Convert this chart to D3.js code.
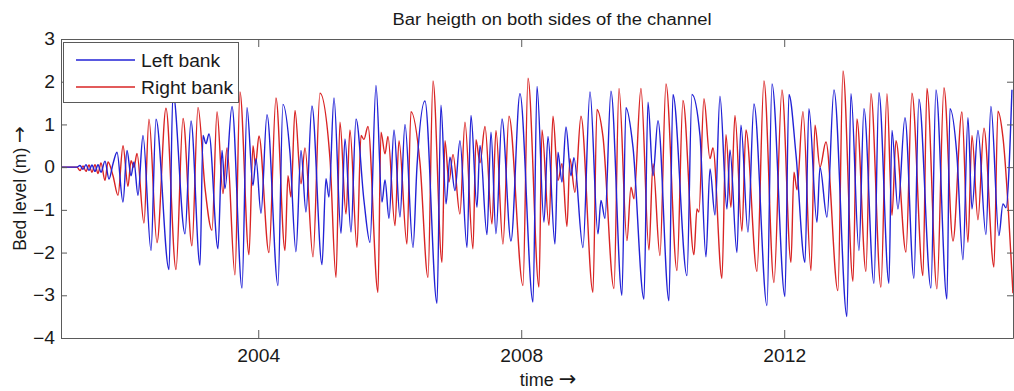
<!DOCTYPE html>
<html><head><meta charset="utf-8">
<script src="https://cdn.jsdelivr.net/npm/d3@7"></script>
<style>body{margin:0;background:#fff}svg{display:block}text{font-family:"Liberation Sans",Arial,sans-serif;fill:#1a1a1a}</style>
</head><body><svg id="c" width="1014" height="391"></svg>
<script>
const title = "Bar heigth on both sides of the channel";
const xLabel = "time";
const yLabel = "Bed level (m)";
const arrow = "\u2192";
const seriesNames = ["Left bank", "Right bank"];
const xTicks = [2004, 2008, 2012];
const yTicks = [-4, -3, -2, -1, 0, 1, 2, 3];

const leftT = [2001.000,2001.243,2001.289,2001.335,2001.380,2001.426,2001.471,2001.517,2001.563,2001.608,2001.669,2001.730,2001.791,2001.852,2001.943,2002.004,2002.065,2002.110,2002.171,2002.247,2002.369,2002.445,2002.643,2002.703,2002.886,2002.977,2003.114,2003.160,2003.205,2003.251,2003.388,2003.449,2003.494,2003.601,2003.753,2003.829,2003.920,2003.966,2004.042,2004.133,2004.300,2004.376,2004.483,2004.574,2004.650,2004.726,2004.817,2004.970,2005.030,2005.076,2005.152,2005.259,2005.319,2005.411,2005.487,2005.608,2005.700,2005.791,2005.882,2005.928,2005.989,2006.065,2006.156,2006.232,2006.354,2006.414,2006.536,2006.719,2006.779,2006.856,2006.916,2006.992,2007.068,2007.175,2007.236,2007.327,2007.373,2007.479,2007.540,2007.616,2007.707,2007.844,2007.981,2008.179,2008.240,2008.346,2008.407,2008.513,2008.559,2008.620,2008.681,2008.757,2008.802,2008.939,2009.046,2009.167,2009.213,2009.274,2009.365,2009.532,2009.593,2009.700,2009.867,2009.928,2010.004,2010.080,2010.247,2010.308,2010.521,2010.597,2010.719,2010.810,2010.871,2010.947,2011.023,2011.129,2011.175,2011.281,2011.342,2011.449,2011.540,2011.738,2011.814,2012.011,2012.072,2012.179,2012.316,2012.376,2012.498,2012.544,2012.650,2012.757,2012.954,2013.015,2013.137,2013.213,2013.365,2013.441,2013.593,2013.639,2013.730,2013.837,2013.973,2014.049,2014.232,2014.308,2014.475,2014.521,2014.627,2014.719,2014.795,2014.856,2014.947,2015.068,2015.144,2015.266,2015.327,2015.373,2015.464];
const leftV = [0,0,0.04,-0.05,0.06,-0.08,0.05,-0.1,0.06,-0.12,0.14,-0.28,0.08,0.35,-0.82,0.39,-0.2,0.12,-0.66,0.74,-1.95,1.12,-2.4,1.75,-1.56,1.08,-2.3,0.74,0.55,0.78,-1.91,0.39,-0.5,1.42,-2.83,1.39,-0.43,0.2,-1.08,1.23,-2.77,1.47,0.33,-1.98,0.39,-1.05,1.43,-2.28,-0.27,-0.7,1.62,-1.55,0.66,-1.52,1.13,-0.78,-1.76,1.91,-0.82,-0.3,-1.2,0.87,-1.17,1.0,-1.88,0.0,1.55,-3.19,1.45,-0.86,0.23,-0.55,0.62,-1.88,1.21,-0.94,0.51,-1.58,0.82,-1.56,1.13,-1.73,1.72,-3.16,1.89,-1.29,0.72,-1.8,0.35,-0.35,0.94,-0.2,0.22,-1.88,1.76,-1.56,-0.78,-1.2,1.78,-3.0,1.39,0.47,-3.09,1.52,-0.2,1.09,-3.13,1.7,-2.54,1.7,0.74,-2.1,-0.04,-1.12,1.66,-0.98,0.4,-2.0,0.98,-1.52,1.48,-3.24,1.95,-3.03,1.7,0.3,-2.23,1.37,-1.29,0.0,-1.17,1.81,-3.5,1.72,-1.95,1.37,-2.72,1.74,-2.72,0.86,-0.98,1.16,-2.6,1.59,-2.83,1.81,-3.09,1.37,0.27,-2.17,1.16,-0.98,0.86,-1.58,1.42,-1.6,-0.86,-0.95,1.81];

const rightT = [2001.000,2001.243,2001.289,2001.335,2001.380,2001.426,2001.471,2001.517,2001.563,2001.608,2001.669,2001.715,2001.791,2001.867,2001.943,2002.019,2002.065,2002.110,2002.156,2002.262,2002.338,2002.460,2002.597,2002.749,2002.856,2002.992,2003.084,2003.190,2003.297,2003.373,2003.464,2003.525,2003.646,2003.722,2003.859,2003.920,2003.958,2004.011,2004.163,2004.270,2004.407,2004.452,2004.498,2004.559,2004.650,2004.711,2004.833,2004.939,2005.091,2005.183,2005.243,2005.335,2005.395,2005.502,2005.563,2005.608,2005.669,2005.821,2005.867,2005.928,2005.973,2006.080,2006.141,2006.262,2006.323,2006.460,2006.582,2006.658,2006.795,2006.840,2006.901,2006.962,2007.068,2007.144,2007.266,2007.312,2007.373,2007.449,2007.555,2007.616,2007.722,2007.814,2008.027,2008.103,2008.270,2008.316,2008.422,2008.483,2008.559,2008.620,2008.696,2008.741,2008.817,2008.909,2009.091,2009.152,2009.243,2009.411,2009.487,2009.608,2009.669,2009.715,2009.821,2009.943,2010.004,2010.110,2010.202,2010.369,2010.460,2010.627,2010.673,2010.703,2010.779,2010.871,2010.916,2011.053,2011.114,2011.190,2011.251,2011.357,2011.418,2011.586,2011.692,2011.844,2011.966,2012.103,2012.148,2012.194,2012.285,2012.407,2012.468,2012.544,2012.635,2012.817,2012.894,2013.046,2013.106,2013.243,2013.319,2013.471,2013.563,2013.639,2013.700,2013.852,2013.943,2014.110,2014.171,2014.323,2014.430,2014.567,2014.703,2014.795,2014.856,2014.947,2015.038,2015.190,2015.251,2015.327,2015.479];
const rightV = [0,0,-0.08,0.03,-0.1,0.05,-0.12,0.06,-0.15,0.1,-0.31,0.12,-0.2,-0.66,0.5,-0.45,0.15,0.0,0.32,-1.31,1.12,-1.77,1.38,-2.4,1.14,-1.84,1.4,-0.48,-1.48,1.3,-0.62,0.45,-2.52,1.76,-2.05,0.5,0.05,0.73,-2.0,1.62,-1.95,-0.2,-0.7,1.33,-0.39,0.45,-2.1,1.73,0.2,-2.58,1.05,-1.1,0.87,-1.88,0.74,0.65,0.95,-2.93,0.82,0.31,0.72,-1.37,0.62,-1.8,1.3,0.1,-2.58,2.02,-2.23,0.62,-0.35,0.3,-1.1,1.05,-1.91,0.64,0.1,0.95,-1.33,0.86,-1.8,1.19,-2.77,2.08,-2.81,0.87,-1.37,1.19,-0.31,0.08,-1.39,0.2,-0.59,1.19,-2.93,1.35,0.72,-2.84,1.84,-1.72,-0.47,-0.74,1.84,-1.94,0.08,-2.07,1.95,-2.42,1.56,-2.05,-0.98,-1.05,1.6,0.2,0.45,-2.6,0.76,-0.94,1.21,-1.5,0.87,-2.44,2.02,-2.7,1.81,-2.23,-0.12,-0.53,1.3,-2.42,0.98,0.0,0.59,-2.89,2.25,-2.67,1.13,-2.44,1.72,-2.81,1.72,-1.13,0.62,-1.99,1.73,-2.54,1.84,-2.85,1.86,-1.73,1.29,-1.76,0.74,-1.23,0.91,-2.34,1.31,0.7,-2.95];

const m = {left: 61, right: 1013, top: 39, bottom: 338};
const svg = d3.select("#c");
const x = d3.scaleLinear().domain([2001, 2015.48]).range([m.left, m.right]);
const y = d3.scaleLinear().domain([-4, 3]).range([m.bottom, m.top]);

const axisColor = "#5a5a5a";
const fs = 17.5;
const stretchK = 1.1;
function stretch(sel, k) {
  sel.each(function () {
    const w = this.getComputedTextLength();
    d3.select(this).attr("textLength", w * k).attr("lengthAdjust", "spacingAndGlyphs");
  });
}

svg.append("defs").append("clipPath").attr("id", "clip")
  .append("rect").attr("x", m.left).attr("y", m.top).attr("width", m.right - m.left).attr("height", m.bottom - m.top);

const line = d3.line().x(d => x(d[0])).y(d => y(d[1])).curve(d3.curveMonotoneX);
const gLines = svg.append("g").attr("clip-path", "url(#clip)");
gLines.append("path").datum(rightT.map((t, i) => [t, rightV[i]]))
  .attr("d", line).attr("fill", "none").attr("stroke", "#d92424").attr("stroke-width", 1.4);
gLines.append("path").datum(leftT.map((t, i) => [t, leftV[i]]))
  .attr("d", line).attr("fill", "none").attr("stroke", "#2222d6").attr("stroke-width", 1.4);

const axB = d3.axisBottom(x).tickValues(xTicks).tickSizeInner(-8).tickSizeOuter(0).tickPadding(12).tickFormat(d3.format("d"));
const axT = d3.axisTop(x).tickValues(xTicks).tickSizeInner(-8).tickSizeOuter(0).tickFormat("");
const axL = d3.axisLeft(y).tickValues(yTicks).tickSizeInner(-6).tickSizeOuter(0).tickPadding(6).tickFormat(d3.format("d"));
const axR = d3.axisRight(y).tickValues(yTicks).tickSizeInner(-6).tickSizeOuter(0).tickFormat("");

function style(g) {
  g.selectAll(".domain").attr("stroke", axisColor);
  g.selectAll(".tick line").attr("stroke", axisColor);
  g.selectAll(".tick text").style("font-family", "Liberation Sans, Arial, sans-serif").style("font-size", fs + "px").attr("fill", "#1a1a1a");
  stretch(g.selectAll(".tick text"), stretchK);
}
svg.append("g").attr("transform", `translate(0,${m.bottom})`).call(axB).call(style);
svg.append("g").attr("transform", `translate(0,${m.top})`).call(axT).call(style);
svg.append("g").attr("transform", `translate(${m.left},0)`).call(axL).call(style);
svg.append("g").attr("transform", `translate(${m.right},0)`).call(axR).call(style);

// title
const tt = svg.append("text").attr("x", 552).attr("y", 25).attr("text-anchor", "middle")
  .style("font-size", "16px").text(title);
stretch(tt, 1.15);

// x label with arrow
const xl = svg.append("text").attr("x", 548).attr("y", 386).attr("text-anchor", "middle").style("font-size", "18px");
xl.append("tspan").text(xLabel + " ");
xl.append("tspan").style("font-family", "DejaVu Sans").style("font-size", "21px").text(arrow);
// y label with arrow
const yl = svg.append("text").attr("transform", `translate(26,${(m.top + m.bottom) / 2}) rotate(-90)`).attr("text-anchor", "middle").style("font-size", "17.5px");
yl.append("tspan").text(yLabel + " ");
yl.append("tspan").style("font-family", "DejaVu Sans").style("font-size", "20px").text(arrow);

// legend
const lg = svg.append("g");
lg.append("rect").attr("x", 63.5).attr("y", 42.5).attr("width", 175).attr("height", 60)
  .attr("fill", "#fff").attr("stroke", axisColor).attr("stroke-width", 1);
const colors = ["#2222d6", "#d92424"];
seriesNames.forEach((s, i) => {
  const yy = 60 + i * 27;
  lg.append("line").attr("x1", 76).attr("x2", 135).attr("y1", yy).attr("y2", yy).attr("stroke", colors[i]).attr("stroke-width", 1.3);
  const t = lg.append("text").attr("x", 141).attr("y", yy + 6.5).style("font-size", "17.5px").text(s);
  stretch(t, stretchK);
});
</script></body></html>
